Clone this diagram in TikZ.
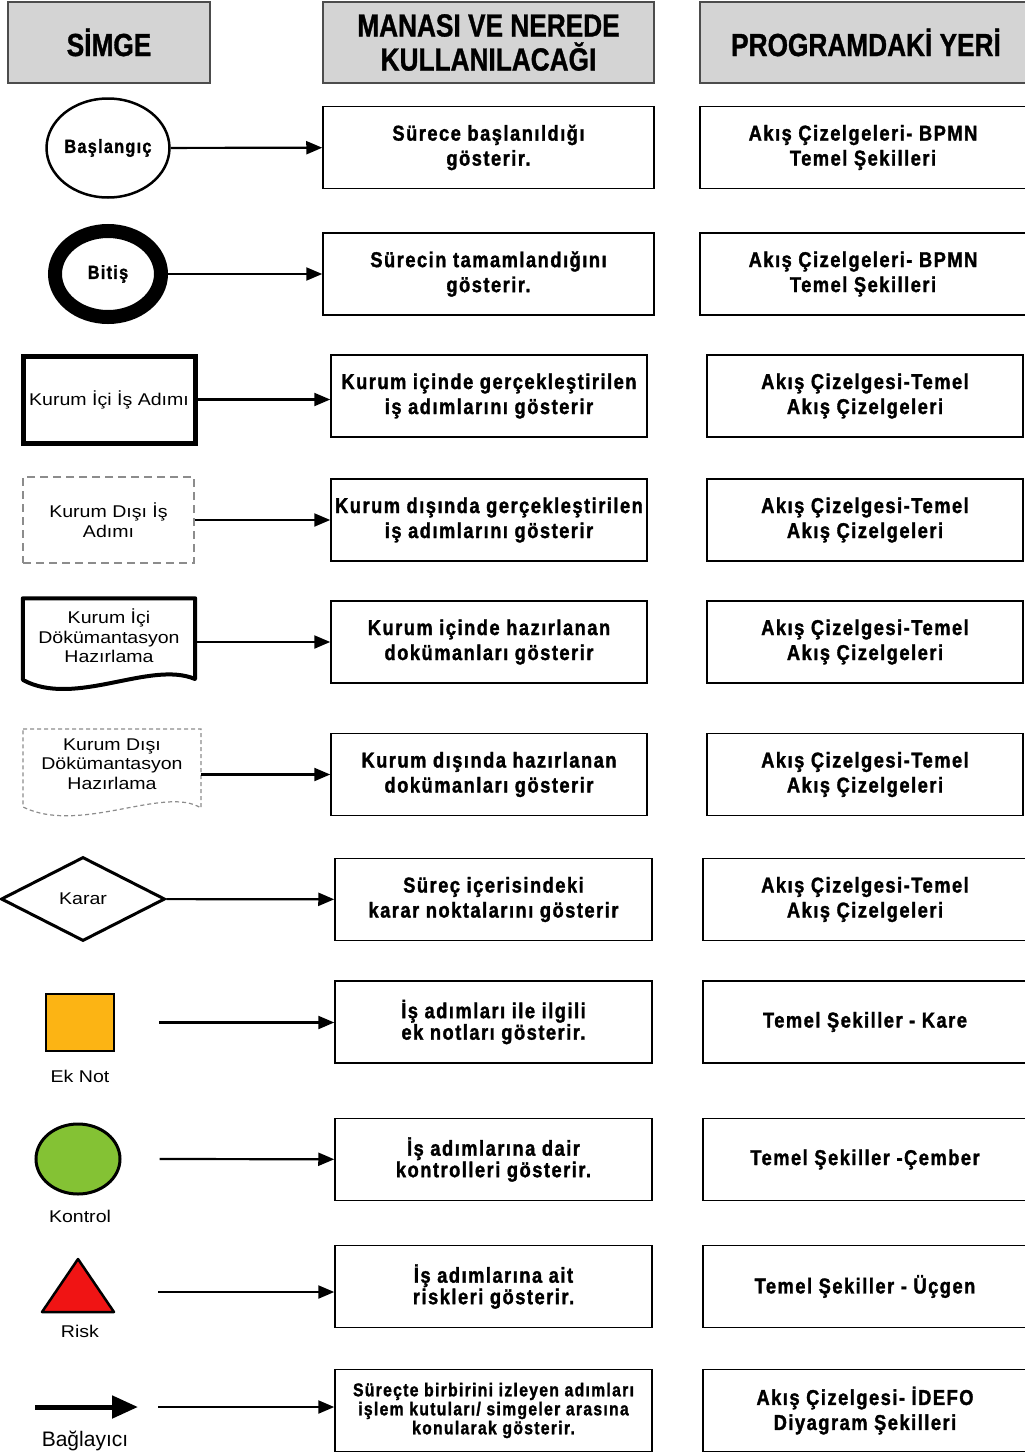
\documentclass[tikz,border=0pt]{standalone}
\usepackage{fontspec}
\setmainfont{Liberation Sans}
\newfontfamily\headfont[FakeStretch=0.82,FakeBold=1]{Liberation Sans}
\newfontfamily\tablefont[FakeStretch=0.85,LetterSpace=7,FakeBold=1.5]{Liberation Sans}
\newfontfamily\labelfont[FakeStretch=1.15]{Liberation Sans}
\usetikzlibrary{shapes.geometric,arrows.meta}

\definecolor{notturuncu}{RGB}{252,180,20}
\definecolor{kontrolyesil}{RGB}{132,194,52}
\definecolor{riskkirmizi}{RGB}{240,20,20}
\definecolor{baslikgri}{RGB}{212,212,212}

\tikzset{
  baslik/.style={draw=black!70, line width=1.5pt, fill=baslikgri, minimum height=81pt,
    align=center, font=\headfont\bfseries\fontsize{32}{34}\selectfont},
  mana/.style={draw, line width=1.5pt, minimum height=82pt, align=center,
    font=\tablefont\bfseries\fontsize{21.5}{25}\selectfont},
  simge/.style={align=center, font=\labelfont\fontsize{17}{19.5}\selectfont},
  ok/.style={-{Triangle[length=16pt,width=13pt]}, line width=2.2pt},
  disari/.style={draw=black!45, line width=1.2pt},
}

\begin{document}
\begin{tikzpicture}[x=1pt,y=-1pt]
  \useasboundingbox (0,0) rectangle (1025,1454);

  % basliklar
  \node[baslik, minimum width=202pt] (h1) at (109,42.5) {SİMGE};
  \node[baslik, minimum width=331pt] (h2) at (488.5,42.5) {MANASI VE NEREDE\\KULLANILACAĞI};
  \node[baslik, minimum width=332pt] (h3) at (866,42.5) {PROGRAMDAKİ YERİ};

  % Baslangic
  \node[ellipse, draw, line width=2.5pt, minimum width=118pt, minimum height=99pt, inner sep=0pt,
        font=\tablefont\bfseries\fontsize{19}{21}\selectfont] (bas) at (108,148) {Başlangıç};
  \node[mana, minimum width=331pt] (m1) at (488.5,147.5) {Sürece başlanıldığı\\gösterir.};
  \node[mana, minimum width=326pt] (y1) at (863,147.5) {Akış Çizelgeleri- BPMN\\Temel Şekilleri};
  \draw[ok] (bas) -- (m1);

  % Bitis
  \node[ellipse, draw, line width=14pt, minimum width=106pt, minimum height=86pt, inner sep=0pt,
        font=\tablefont\bfseries\fontsize{19}{21}\selectfont] (bit) at (108,274) {Bitiş};
  \node[mana, minimum width=331pt] (m2) at (488.5,274) {Sürecin tamamlandığını\\gösterir.};
  \node[mana, minimum width=326pt] (y2) at (863,274) {Akış Çizelgeleri- BPMN\\Temel Şekilleri};
  \draw[ok] (bit) -- (m2);

  % Kurum ici is adimi
  \node[simge, draw, line width=5pt, minimum width=172pt, minimum height=87pt] (kia) at (109,399.5) {Kurum İçi İş Adımı};
  \node[mana, minimum width=316pt] (m3) at (489,396) {Kurum içinde gerçekleştirilen\\iş adımlarını gösterir};
  \node[mana, minimum width=316pt] (y3) at (865,396) {Akış Çizelgesi-Temel\\Akış Çizelgeleri};
  \draw[ok] (kia) -- (m3.west |- kia);

  % Kurum disi is adimi
  \node[simge, disari, dash pattern=on 8pt off 5pt, minimum width=171pt, minimum height=86pt] (kda) at (108.5,520) {Kurum Dışı İş\\Adımı};
  \node[mana, minimum width=316pt] (m4) at (489,520) {Kurum dışında gerçekleştirilen\\iş adımlarını gösterir};
  \node[mana, minimum width=316pt] (y4) at (865,520) {Akış Çizelgesi-Temel\\Akış Çizelgeleri};
  \draw[ok] (kda) -- (m4);

  % Kurum ici dokumantasyon
  \node[simge, minimum width=172pt, minimum height=75pt] (kid) at (109,636) {Kurum İçi\\Dökümantasyon\\Hazırlama};
  \draw[line width=4pt, line join=round] (kid.north west) -- (kid.north east) -- (195,679)
        .. controls (150,660) and (75,708) .. (23,680) -- cycle;
  \node[mana, minimum width=316pt] (m5) at (489,642) {Kurum içinde hazırlanan\\dokümanları gösterir};
  \node[mana, minimum width=316pt] (y5) at (865,642) {Akış Çizelgesi-Temel\\Akış Çizelgeleri};
  \draw[ok] (kid.east |- m5) -- (m5);

  % Kurum disi dokumantasyon
  \node[simge, minimum width=178pt, minimum height=70pt] (kdd) at (112,764) {Kurum Dışı\\Dökümantasyon\\Hazırlama};
  \draw[disari, dash pattern=on 4pt off 3pt] (23,729) -- (201,729) -- (201,808)
        .. controls (165,785) and (80,835) .. (23,807) -- cycle;
  \node[mana, minimum width=316pt] (m6) at (489,774.5) {Kurum dışında hazırlanan\\dokümanları gösterir};
  \node[mana, minimum width=316pt] (y6) at (865,774.5) {Akış Çizelgesi-Temel\\Akış Çizelgeleri};
  \draw[ok] (kdd.east |- m6) -- (m6);

  % Karar
  \node[simge, diamond, draw, line width=3pt, minimum width=164pt, minimum height=84pt, inner sep=0pt] (kar) at (83,899) {Karar};
  \node[mana, minimum width=317pt] (m7) at (493.5,899.5) {Süreç içerisindeki\\karar noktalarını gösterir};
  \node[mana, minimum width=324pt] (y7) at (865,899.5) {Akış Çizelgesi-Temel\\Akış Çizelgeleri};
  \draw[ok] (kar) -- (m7);

  % Ek not
  \node[draw, line width=2.5pt, fill=notturuncu, minimum width=68pt, minimum height=57pt] (ekn) at (80,1022.5) {};
  \node[simge] (eknl) at (80,1076) {Ek Not};
  \node[mana, minimum width=317pt, font=\tablefont\bfseries\fontsize{21.5}{21.5}\selectfont] (m8) at (493.5,1022) {İş adımları ile ilgili\\ek notları gösterir.};
  \node[mana, minimum width=324pt] (y8) at (865,1022) {Temel Şekiller - Kare};
  \draw[ok] (ekn.east) ++(44,0) -- (m8.west |- ekn);

  % Kontrol
  \node[ellipse, draw, line width=3pt, fill=kontrolyesil, minimum width=84pt, minimum height=70pt] (kon) at (78,1159) {};
  \node[simge] (konl) at (80,1216) {Kontrol};
  \node[mana, minimum width=317pt, font=\tablefont\bfseries\fontsize{21.5}{21.5}\selectfont] (m9) at (493.5,1159.5) {İş adımlarına dair\\kontrolleri gösterir.};
  \node[mana, minimum width=324pt] (y9) at (865,1159.5) {Temel Şekiller -Çember};
  \draw[ok] (kon.east) ++(38,0) -- (m9);

  % Risk
  \coordinate (rsk) at (78,1292);
  \draw[line width=2.5pt, line join=round, fill=riskkirmizi] (42,1312) -- (78,1259) -- (114,1312) -- cycle;
  \node[simge] (rskl) at (80,1331) {Risk};
  \node[mana, minimum width=317pt, font=\tablefont\bfseries\fontsize{21.5}{21.5}\selectfont] (m10) at (493.5,1286.5) {İş adımlarına ait\\riskleri gösterir.};
  \node[mana, minimum width=324pt] (y10) at (865,1286.5) {Temel Şekiller - Üçgen};
  \draw[ok] (rsk) ++(80,0) -- (m10.west |- rsk);

  % Baglayici
  \coordinate (bg1) at (35,1407);
  \coordinate (bg2) at (138,1407);
  \draw[line width=5pt, -{Triangle[length=26pt,width=22pt]}] (bg1) -- (bg2);
  \node[font=\fontsize{21}{23}\selectfont] (bgl) at (85,1441) {Bağlayıcı};
  \node[mana, minimum width=317pt, font=\tablefont\bfseries\fontsize{18.5}{19}\selectfont] (m11) at (493.5,1410.5) {Süreçte birbirini izleyen adımları\\işlem kutuları/ simgeler arasına\\konularak gösterir.};
  \node[mana, minimum width=324pt] (y11) at (865,1410.5) {Akış Çizelgesi- İDEFO\\Diyagram Şekilleri};
  \draw[ok] (bg2) ++(20,0) -- (m11.west |- bg2);
\end{tikzpicture}
\end{document}
